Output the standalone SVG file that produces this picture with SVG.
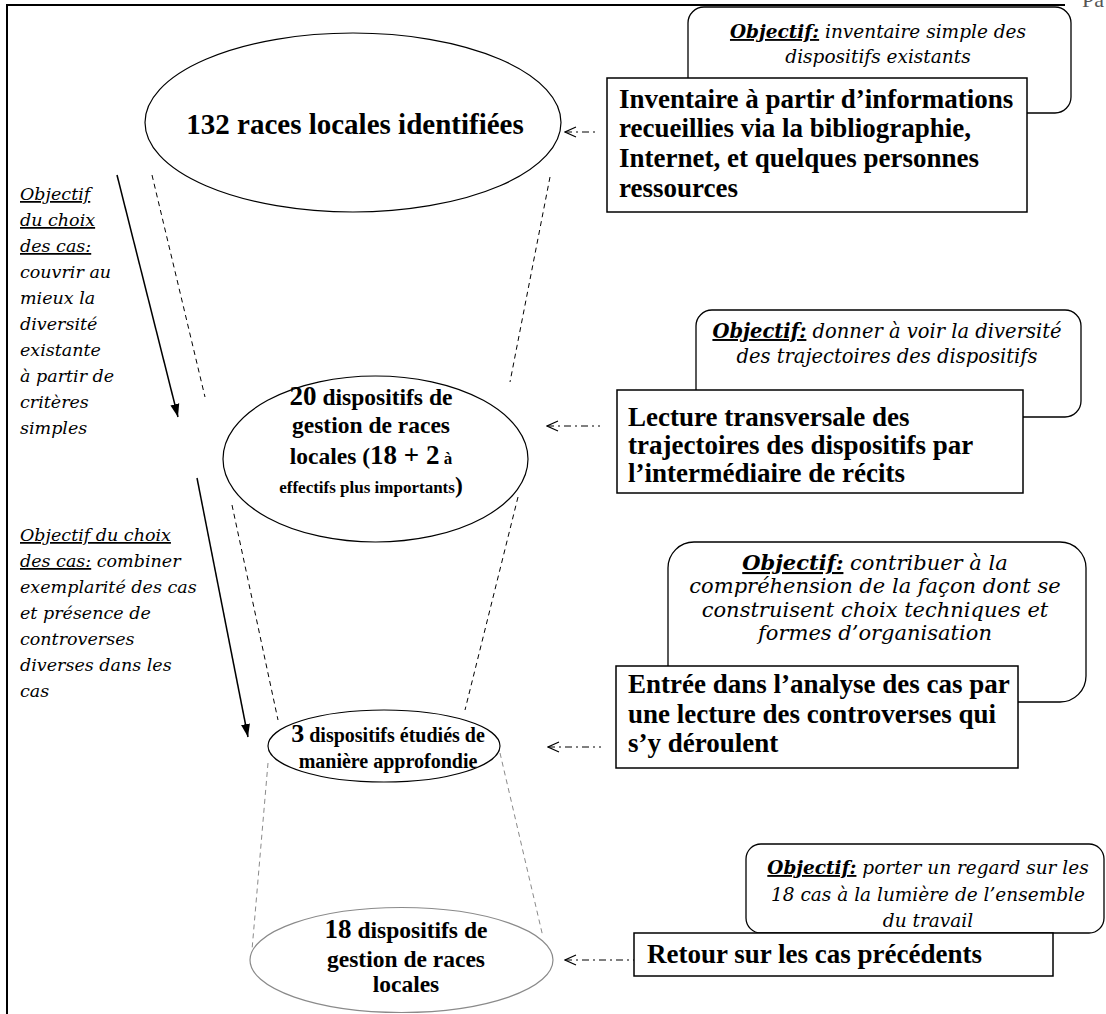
<svg xmlns="http://www.w3.org/2000/svg" width="1106" height="1014" viewBox="0 0 1106 1014">
<defs>
<style>
.b{font-family:"Liberation Serif","Times New Roman",serif;font-weight:bold;fill:#000}
.i{font-family:"DejaVu Serif","Liberation Serif",serif;font-style:italic;fill:#000}
.obj{font-weight:bold;text-decoration:underline}
.u{text-decoration:underline}
.box{fill:#fff;stroke:#000;stroke-width:1.5}
.rbox{fill:#fff;stroke:#000;stroke-width:1.3}
.ell{fill:#fff;stroke:#000;stroke-width:1.2}
.funnel{fill:none;stroke:#000;stroke-width:1;stroke-dasharray:5 4}
.grey{stroke:#8a8a8a}
.dd{fill:none;stroke:#000;stroke-width:1;stroke-dasharray:7 4 2 4;marker-start:url(#open)}
.solid{fill:none;stroke:#000;stroke-width:1.5;marker-end:url(#head)}
.frame{stroke:#000;stroke-width:2;fill:none}
</style>
<marker id="open" markerUnits="userSpaceOnUse" markerWidth="14" markerHeight="14" refX="0" refY="0" viewBox="-1 -7 14 14" orient="auto">
<path d="M11,-5 L0,0 L11,5" fill="none" stroke="#000" stroke-width="1.2" stroke-dasharray="none"/>
</marker>
<marker id="head" markerUnits="userSpaceOnUse" markerWidth="14" markerHeight="10" refX="13" refY="0" viewBox="0 -5 14 10" orient="auto">
<path d="M0,-4.5 L13,0 L0,4.5 z" fill="#000" stroke="none"/>
</marker>
</defs>

<g id="frame">
<line class="frame" x1="7" y1="5" x2="1065" y2="5"/>
<line class="frame" x1="7" y1="4" x2="7" y2="1014"/>
<text x="1082" y="7" font-family="Liberation Serif, serif" font-size="22" fill="#555">Pa</text>
</g>

<g id="connectors">
<path class="funnel" d="M152,175 L205,397"/>
<path class="funnel" d="M550,177 L510,382"/>
<path class="funnel" d="M232,505 L278,720"/>
<path class="funnel" d="M518,497 L465,710"/>
<path class="funnel grey" d="M268,763 L252,950"/>
<path class="funnel grey" d="M500,753 L543,937"/>
<path class="solid" d="M117,175 L178,417"/>
<path class="solid" d="M197,478 L248,737"/>
<path class="dd" d="M565,132 H598"/>
<path class="dd" d="M547,426 H600"/>
<path class="dd" d="M548,747 H601"/>
<path class="dd" d="M565,960 H634"/>
</g>

<g id="node-132">
<ellipse class="ell" cx="353" cy="122.5" rx="208" ry="89.5"/>
<text class="b" x="355" y="134" font-size="29" text-anchor="middle">132 races locales identifiées</text>
</g>

<g id="node-20">
<ellipse class="ell" cx="375.5" cy="459" rx="152.5" ry="83"/>
<text class="b" x="371" y="405" font-size="23.5" text-anchor="middle"><tspan font-size="27">20</tspan> dispositifs de</text>
<text class="b" x="371" y="433" font-size="23.5" text-anchor="middle">gestion de races</text>
<text class="b" x="371" y="464" font-size="23.5" text-anchor="middle">locales (<tspan font-size="27">18 + 2</tspan><tspan font-size="17"> à</tspan></text>
<text class="b" x="371" y="493" font-size="17" text-anchor="middle">effectifs plus importants<tspan font-size="23.5">)</tspan></text>
</g>

<g id="node-3">
<ellipse class="ell" cx="384" cy="746" rx="116" ry="36" stroke-width="1.6"/>
<text class="b" x="388" y="742" font-size="20" text-anchor="middle"><tspan font-size="26">3</tspan> dispositifs étudiés de</text>
<text class="b" x="388" y="768" font-size="20" text-anchor="middle">manière approfondie</text>
</g>

<g id="node-18">
<ellipse class="ell grey" cx="401.5" cy="960" rx="151.5" ry="52.5" stroke-width="1"/>
<text class="b" x="406" y="938" font-size="23.5" text-anchor="middle"><tspan font-size="27">18</tspan> dispositifs de</text>
<text class="b" x="406" y="967" font-size="23.5" text-anchor="middle">gestion de races</text>
<text class="b" x="406" y="992" font-size="23.5" text-anchor="middle">locales</text>
</g>

<g id="objectif-1">
<rect class="rbox" x="688" y="7" width="383" height="106" rx="16"/>
<text class="i" x="878" y="38" font-size="18.5" text-anchor="middle"><tspan class="obj">Objectif:</tspan> inventaire simple des</text>
<text class="i" x="878" y="63" font-size="18.5" text-anchor="middle">dispositifs existants</text>
</g>
<g id="etape-1">
<rect class="box" x="607" y="78" width="420" height="134"/>
<text class="b" x="619" y="108" font-size="27">Inventaire à partir d’informations</text>
<text class="b" x="619" y="137" font-size="27">recueillies via la bibliographie,</text>
<text class="b" x="619" y="167" font-size="27">Internet, et quelques personnes</text>
<text class="b" x="619" y="197" font-size="27">ressources</text>
</g>

<g id="objectif-2">
<rect class="rbox" x="696" y="310" width="385" height="107" rx="16"/>
<text class="i" x="887" y="338" font-size="19.5" text-anchor="middle"><tspan class="obj">Objectif:</tspan> donner à voir la diversité</text>
<text class="i" x="887" y="363" font-size="19.5" text-anchor="middle">des trajectoires des dispositifs</text>
</g>
<g id="etape-2">
<rect class="box" x="617" y="390" width="406" height="103"/>
<text class="b" x="628" y="426" font-size="27">Lecture transversale des</text>
<text class="b" x="628" y="454" font-size="27">trajectoires des dispositifs par</text>
<text class="b" x="628" y="482" font-size="27">l’intermédiaire de récits</text>
</g>

<g id="objectif-3">
<rect class="rbox" x="668" y="542" width="418" height="160" rx="26"/>
<text class="i" x="875" y="570" font-size="21" text-anchor="middle"><tspan class="obj">Objectif:</tspan> contribuer à la</text>
<text class="i" x="875" y="593" font-size="21" text-anchor="middle">compréhension de la façon dont se</text>
<text class="i" x="875" y="617" font-size="21" text-anchor="middle">construisent choix techniques et</text>
<text class="i" x="875" y="640" font-size="21" text-anchor="middle">formes d’organisation</text>
</g>
<g id="etape-3">
<rect class="box" x="616" y="666" width="402" height="102"/>
<text class="b" x="628" y="693" font-size="27">Entrée dans l’analyse des cas par</text>
<text class="b" x="628" y="723" font-size="27">une lecture des controverses qui</text>
<text class="b" x="628" y="752" font-size="27">s’y déroulent</text>
</g>

<g id="objectif-4">
<rect class="rbox" x="746" y="844" width="358" height="89" rx="15"/>
<text class="i" x="928" y="874" font-size="18.5" text-anchor="middle"><tspan class="obj">Objectif:</tspan> porter un regard sur les</text>
<text class="i" x="928" y="901" font-size="18.5" text-anchor="middle">18 cas à la lumière de l’ensemble</text>
<text class="i" x="928" y="927" font-size="18.5" text-anchor="middle">du travail</text>
</g>
<g id="etape-4">
<rect class="box" x="634" y="933" width="419" height="43"/>
<text class="b" x="647" y="963" font-size="27">Retour sur les cas précédents</text>
</g>

<g id="choix-1">
<text class="i" x="20" y="200" font-size="17.5">
<tspan x="20" y="200" class="u">Objectif</tspan>
<tspan x="20" y="226" class="u">du choix</tspan>
<tspan x="20" y="252" class="u">des cas:</tspan>
<tspan x="20" y="278">couvrir au</tspan>
<tspan x="20" y="304">mieux la</tspan>
<tspan x="20" y="330">diversité</tspan>
<tspan x="20" y="356">existante</tspan>
<tspan x="20" y="382">à partir de</tspan>
<tspan x="20" y="408">critères</tspan>
<tspan x="20" y="434">simples</tspan>
</text>
</g>

<g id="choix-2">
<text class="i" x="20" y="541" font-size="17.5">
<tspan x="20" y="541" class="u">Objectif du choix</tspan>
<tspan x="20" y="567"><tspan class="u">des cas:</tspan> combiner</tspan>
<tspan x="20" y="593">exemplarité des cas</tspan>
<tspan x="20" y="619">et présence de</tspan>
<tspan x="20" y="645">controverses</tspan>
<tspan x="20" y="671">diverses dans les</tspan>
<tspan x="20" y="697">cas</tspan>
</text>
</g>
</svg>
